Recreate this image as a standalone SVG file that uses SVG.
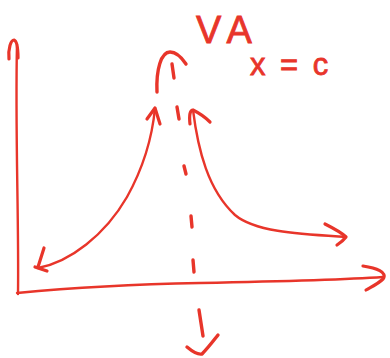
<svg xmlns="http://www.w3.org/2000/svg" width="390" height="358" viewBox="0 0 390 358">
<style>
.s{fill:none;stroke:#e8352a;stroke-linecap:round;stroke-linejoin:round}
.a{stroke-width:2.4}
.t{stroke-width:3.2}
.d{stroke-width:3.4}
.lbl{fill:#e8352a;stroke:#e8352a;stroke-width:0.8;font-family:"Liberation Sans",Arial,sans-serif}
</style>
<rect width="390" height="358" fill="#ffffff"/>
<g id="axes">
<path class="s a" d="M18,294 C19,220 15,130 17,44"/>
<path class="s t" d="M9,59 C8,48 11,40 14,40 C17,41 18,50 18,58"/>
<path class="s a" d="M17,293 C80,287 150,284 200,283 S340,280 383,277"/>
<path class="s t" d="M363,266 C376,268 388,272 383,279 C378,284 371,287 366,290"/>
</g>
<g id="asymptote">
<path class="s d" d="M157,92 C156,70 161,52 170,52 C177,52 182,58 186,64"/>
<path class="s d" d="M172,64 L174,78"/>
<path class="s d" d="M177,107 L179,119"/>
<path class="s d" d="M184,166 L186,174"/>
<path class="s d" d="M191,216 L192,227"/>
<path class="s d" d="M193,260 L194,272"/>
<path class="s d" d="M199,310 L203,336"/>
<path class="s d" d="M187,347 C193,352 198,355 202,354 C208,348 214,340 218,335"/>
</g>
<g id="left-branch">
<path class="s a" d="M38,268 C70,262 105,235 127,197 C142,170 152,140 155,108"/>
<path class="s t" d="M147,119 L155,108 L160,124"/>
<path class="s t" d="M44,248 L38,267 M35,267 L47,271"/>
</g>
<g id="right-branch">
<path class="s a" d="M193,110 C198,150 208,190 235,215 C255,232 300,234 346,237"/>
<path class="s t" d="M190,124 C189,115 190,110 193,110 C199,113 205,117 210,122"/>
<path class="s t" d="M325,224 C333,228 341,232 346,237 C343,241 340,243 337,245"/>
</g>
<g id="labels">
<text class="lbl" x="196" y="43" font-size="38" letter-spacing="8">VA</text>
<text class="lbl" x="250" y="75" font-size="31" letter-spacing="3">x = c</text>
</g>
</svg>
